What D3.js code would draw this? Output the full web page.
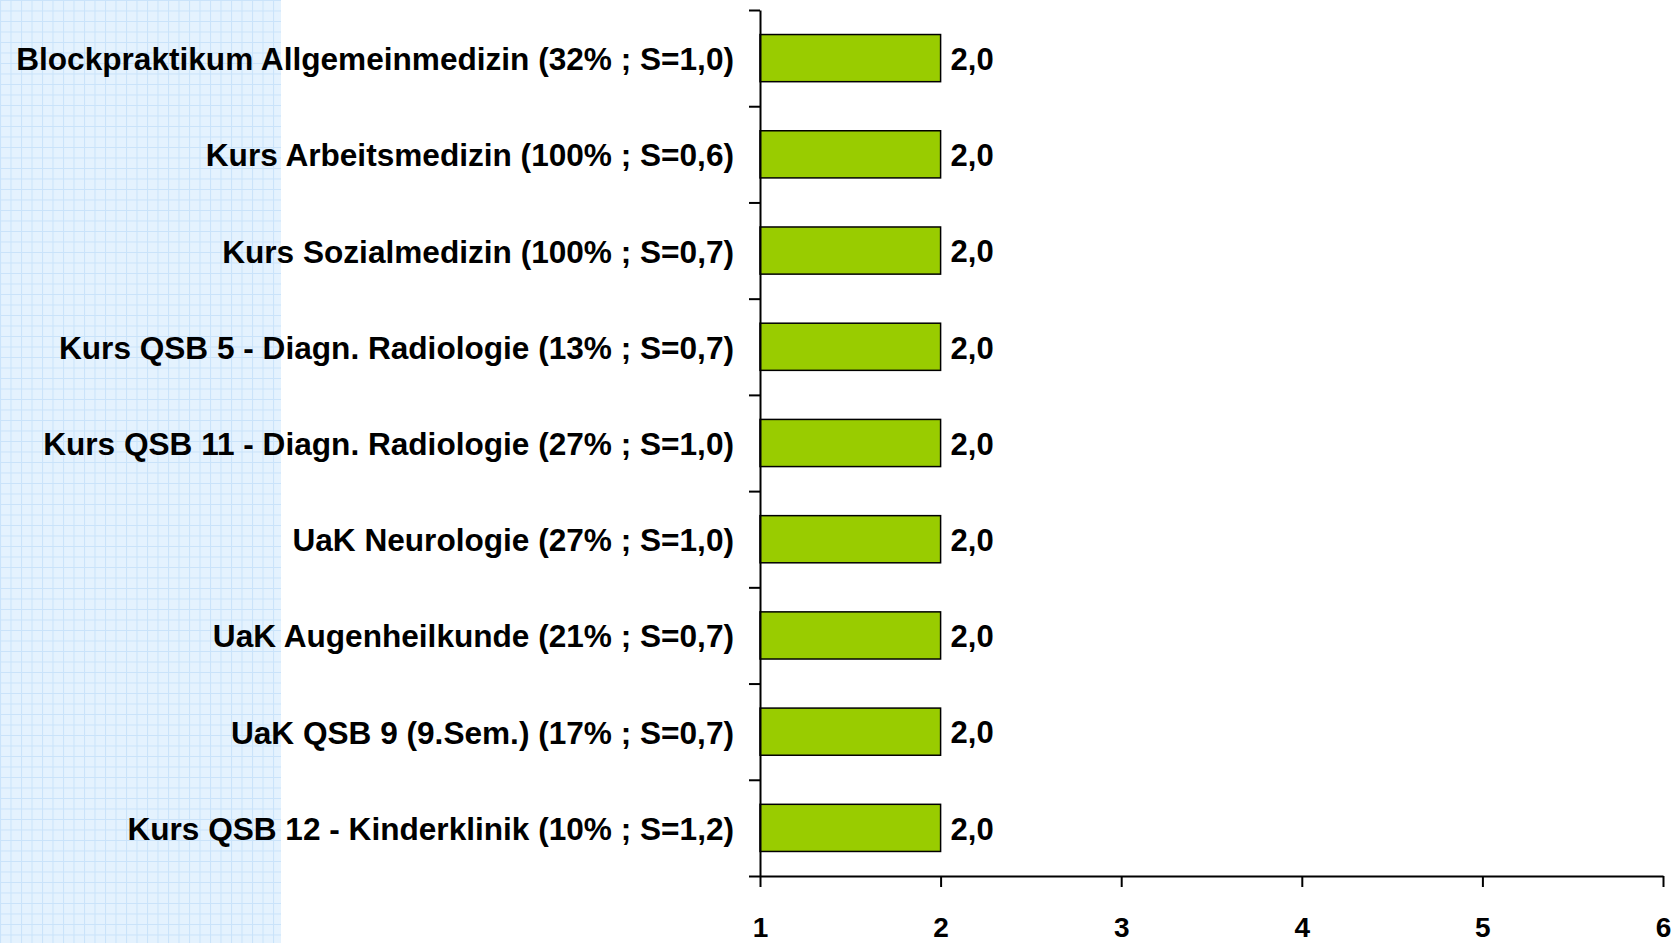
<!DOCTYPE html>
<html>
<head>
<meta charset="utf-8">
<script src="https://cdn.jsdelivr.net/npm/d3@7"></script>
<style>
  body { margin: 0; background: #fff; }
  svg { display: block; }
  text { font-family: "Liberation Sans", Arial, sans-serif; font-weight: bold; fill: #000; }
</style>
</head>
<body>
<script>
//chart data
var categories = [
    "Blockpraktikum Allgemeinmedizin (32% ; S=1,0)",
    "Kurs Arbeitsmedizin (100% ; S=0,6)",
    "Kurs Sozialmedizin (100% ; S=0,7)",
    "Kurs QSB 5 - Diagn. Radiologie (13% ; S=0,7)",
    "Kurs QSB 11 - Diagn. Radiologie (27% ; S=1,0)",
    "UaK Neurologie (27% ; S=1,0)",
    "UaK Augenheilkunde (21% ; S=0,7)",
    "UaK QSB 9 (9.Sem.) (17% ; S=0,7)",
    "Kurs QSB 12 - Kinderklinik (10% ; S=1,2)"
];
var values = [2.0, 2.0, 2.0, 2.0, 2.0, 2.0, 2.0, 2.0, 2.0];
var xTicks = [1, 2, 3, 4, 5, 6];

window.onload = drawChart();

function drawChart(){
    var width = 1679,
        height = 943;

    var svg = d3.select("body")
        .append("svg")
        .attr("width", width)
        .attr("height", height);

    //graph-paper panel on the left
    var defs = svg.append("defs");
    var pat = defs.append("pattern")
        .attr("id", "grid")
        .attr("patternUnits", "userSpaceOnUse")
        .attr("width", 10.5)
        .attr("height", 10.5);
    pat.append("rect")
        .attr("width", 10.5)
        .attr("height", 10.5)
        .attr("fill", "#e4f2fe");
    pat.append("path")
        .attr("d", "M0,0.5H10.5M0.5,0V10.5")
        .attr("stroke", "#c9e3fa")
        .attr("stroke-width", 1)
        .attr("fill", "none");
    svg.append("rect")
        .attr("x", 0)
        .attr("y", 0)
        .attr("width", 281)
        .attr("height", height)
        .attr("fill", "url(#grid)");

    var left = 760, right = 1663, top = 10, bottom = 876;

    var x = d3.scaleLinear()
        .domain([1, 6])
        .range([left, right]);

    var y = d3.scaleBand()
        .domain(categories)
        .range([top, bottom])
        .paddingInner(0.51)
        .paddingOuter(0.255);

    //boundary ticks for the category axis
    var yEdge = d3.scaleLinear()
        .domain([0, categories.length])
        .range([top, bottom]);

    //bars
    svg.selectAll(".bar")
        .data(values)
        .enter()
        .append("rect")
        .attr("class", "bar")
        .attr("x", x(1))
        .attr("y", function(d, i){ return y(categories[i]); })
        .attr("width", function(d){ return x(d) - x(1); })
        .attr("height", y.bandwidth())
        .attr("fill", "#99cc00")
        .attr("stroke", "#000")
        .attr("stroke-width", 1.5);

    //value labels
    svg.selectAll(".val")
        .data(values)
        .enter()
        .append("text")
        .attr("class", "val")
        .attr("x", function(d){ return x(d) + 10; })
        .attr("y", function(d, i){ return y(categories[i]) + y.bandwidth() / 2; })
        .attr("dy", "0.38em")
        .style("font-size", "31px")
        .text(function(d){ return d3.format(".1f")(d).replace(".", ","); });

    //category labels
    var yAxis = svg.append("g")
        .attr("transform", "translate(" + left + ",0)")
        .call(d3.axisLeft(y).tickSize(0).tickPadding(26));
    yAxis.select(".domain").remove();
    yAxis.selectAll("text")
        .style("font-size", "31.6px")
        .attr("dy", "0.38em");

    //category axis line with boundary ticks
    var yLine = svg.append("g")
        .attr("transform", "translate(" + left + ",0)")
        .call(d3.axisLeft(yEdge)
            .tickValues(d3.range(categories.length + 1))
            .tickSize(11)
            .tickSizeOuter(0)
            .tickFormat(""));
    yLine.selectAll("path, line")
        .attr("stroke", "#000")
        .attr("stroke-width", 2);

    //value axis
    var xAxis = svg.append("g")
        .attr("transform", "translate(0," + bottom + ")")
        .call(d3.axisBottom(x)
            .tickValues(xTicks)
            .tickFormat(d3.format("d"))
            .tickSize(11)
            .tickSizeOuter(0)
            .tickPadding(30));
    xAxis.selectAll("path, line")
        .attr("stroke", "#000")
        .attr("stroke-width", 2);
    xAxis.selectAll("text")
        .style("font-size", "28px");
};
</script>
</body>
</html>
